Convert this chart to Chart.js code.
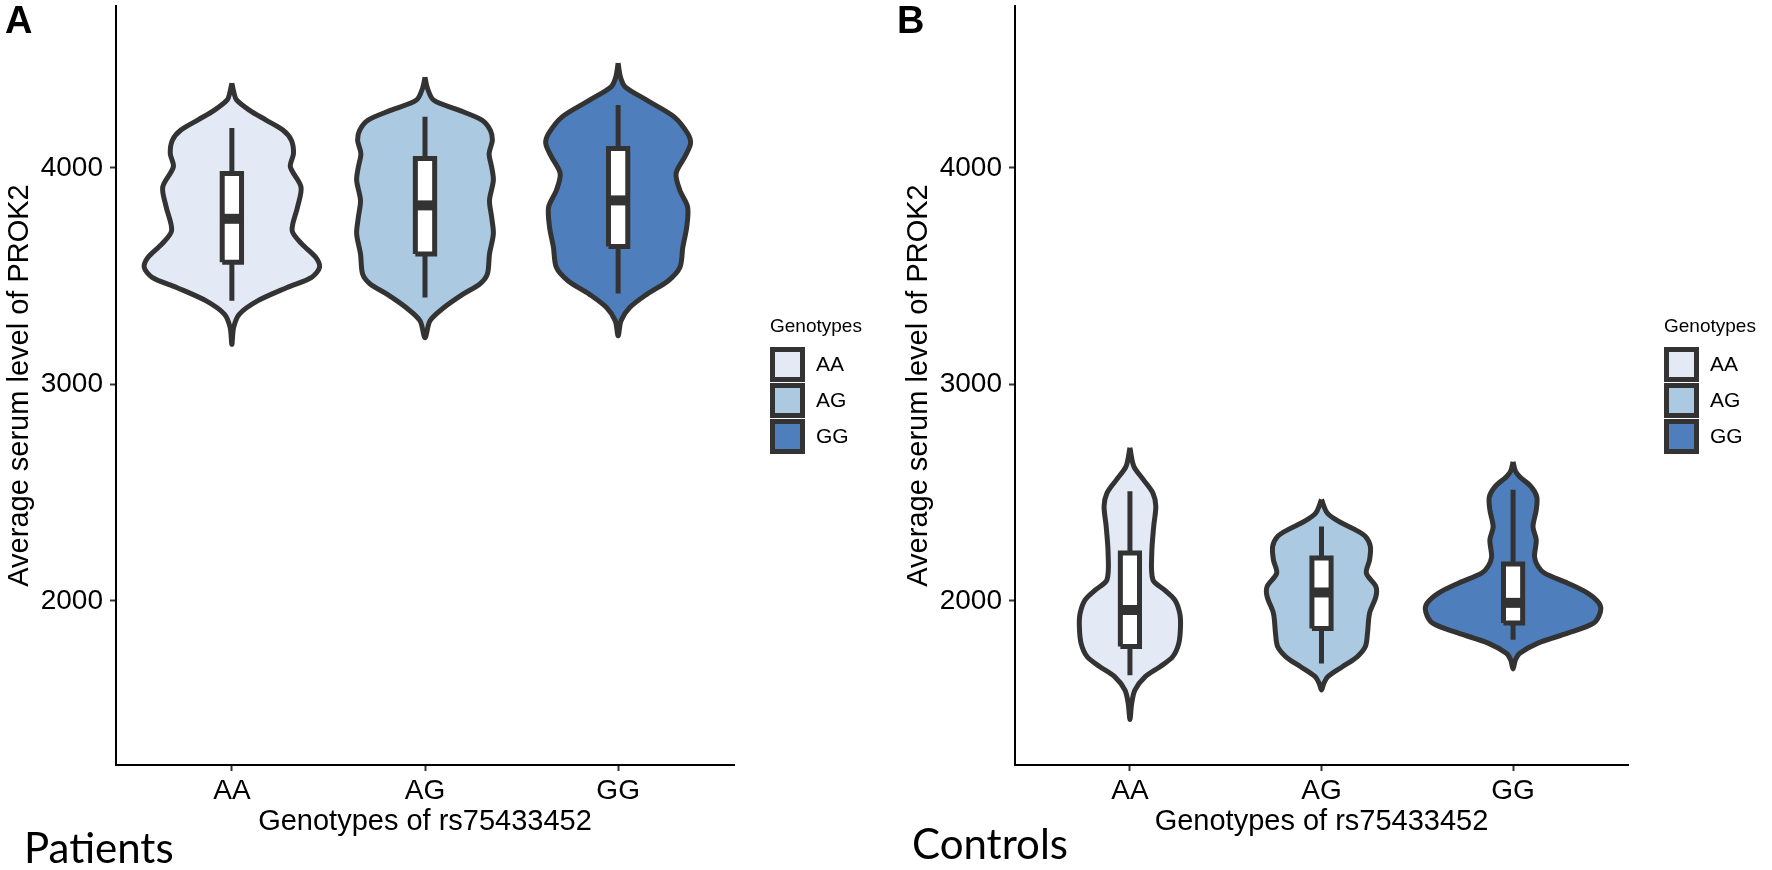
<!DOCTYPE html>
<html>
<head>
<meta charset="utf-8">
<script src="https://cdn.jsdelivr.net/npm/chart.js@4.4.0/dist/chart.umd.min.js"></script>
<style>
  html, body { margin: 0; padding: 0; background: #fff; }
  body { width: 1772px; height: 870px; position: relative; overflow: hidden; }
  .panel { position: absolute; top: 0; height: 870px; }
  .tag { position: absolute; font: bold 38px "Liberation Sans", Arial, sans-serif; line-height: 1; color: #000; }
  .group { position: absolute; font: 42px Lato, "Noto Sans", sans-serif; line-height: 1; color: #000; }
</style>
</head>
<body>
<div class="panel" style="left:0;width:899px"><canvas id="chartA" width="899" height="870"></canvas></div>
<div class="panel" style="left:899px;width:873px"><canvas id="chartB" width="873" height="870"></canvas></div>
<div class="tag" style="left:5px;top:1px">A</div>
<div class="tag" style="left:897px;top:1px">B</div>
<div class="group" style="left:24px;top:826px">Patients</div>
<div class="group" style="left:912px;top:822px">Controls</div>
<script>
var genotypes = ['AA', 'AG', 'GG'];
var yTicks = [2000, 3000, 4000];
var yMin = 1242, yMax = 4748;

// violin outlines, top tip to bottom tip: value and half width (in category units)
var patAA_v = [4391, 4350, 4314, 4267, 4221, 4175, 4128, 4066, 4005, 3912, 3819, 3711, 3649, 3587, 3541, 3495, 3448, 3386, 3325, 3263, 3185];
var patAA_w = [0, 0.01, 0.024, 0.09, 0.177, 0.264, 0.308, 0.319, 0.303, 0.358, 0.34, 0.312, 0.362, 0.434, 0.454, 0.413, 0.286, 0.133, 0.039, 0.009, 0];
var patAG_v = [4419, 4370, 4314, 4267, 4221, 4175, 4128, 4066, 4005, 3943, 3850, 3773, 3696, 3603, 3510, 3464, 3417, 3355, 3294, 3216];
var patAG_w = [0, 0.012, 0.044, 0.175, 0.295, 0.338, 0.349, 0.332, 0.345, 0.354, 0.334, 0.345, 0.354, 0.334, 0.323, 0.284, 0.197, 0.098, 0.026, 0];
var patGG_v = [4484, 4420, 4376, 4314, 4236, 4159, 4113, 4051, 3974, 3896, 3819, 3726, 3634, 3541, 3479, 3417, 3355, 3294, 3224];
var patGG_w = [0, 0.012, 0.035, 0.146, 0.29, 0.36, 0.375, 0.345, 0.30, 0.32, 0.36, 0.355, 0.335, 0.32, 0.26, 0.15, 0.06, 0.015, 0];

var ctlAA_v = [2707, 2622, 2560, 2498, 2437, 2344, 2221, 2097, 2051, 2005, 1943, 1881, 1804, 1742, 1696, 1650, 1588, 1526, 1452];
var ctlAA_w = [0, 0.02, 0.07, 0.12, 0.135, 0.124, 0.114, 0.12, 0.18, 0.234, 0.26, 0.264, 0.255, 0.223, 0.157, 0.08, 0.026, 0.009, 0];
var ctlAG_v = [2468, 2406, 2367, 2329, 2298, 2252, 2190, 2128, 2066, 2020, 1943, 1850, 1789, 1742, 1696, 1650, 1619, 1588];
var ctlAG_w = [0, 0.03, 0.09, 0.175, 0.229, 0.255, 0.251, 0.234, 0.284, 0.284, 0.251, 0.24, 0.229, 0.186, 0.109, 0.033, 0.012, 0];
var ctlGG_v = [2642, 2600, 2573, 2527, 2480, 2420, 2342, 2282, 2203, 2160, 2128, 2082, 2036, 1989, 1950, 1897, 1851, 1805, 1758, 1727, 1686];
var ctlGG_w = [0, 0.012, 0.035, 0.095, 0.124, 0.121, 0.104, 0.121, 0.112, 0.13, 0.164, 0.285, 0.389, 0.449, 0.456, 0.42, 0.285, 0.13, 0.035, 0.012, 0];

// box plots: whisker ends, quartiles, median
var patLow = [3386, 3402, 3420];
var patQ1 = [3564, 3603, 3637];
var patMed = [3765, 3827, 3850];
var patQ3 = [3974, 4043, 4090];
var patHigh = [4185, 4236, 4291];

var ctlLow = [1657, 1711, 1820];
var ctlQ1 = [1789, 1873, 1898];
var ctlMed = [1958, 2039, 1991];
var ctlQ3 = [2221, 2198, 2171];
var ctlHigh = [2506, 2344, 2513];

var fills = ['#e3eaf5', '#abc9e1', '#4e7fbc'];
var lineCol = '#333333';
var boxHalf = 0.05;
var fontFam = '"Liberation Sans", Arial, sans-serif';

function violinPoints(pos, vals, widths) {
    var pts = [];
    for (var i = 0; i < vals.length; i++) pts.push({ x: pos - widths[i], y: vals[i] });
    for (var j = vals.length - 2; j >= 0; j--) pts.push({ x: pos + widths[j], y: vals[j] });
    return pts;
}

function makeDatasets(violins, lo, q1, med, q3, hi) {
    var ds = [];
    violins.forEach(function (v, i) {
        var c = i + 1;
        ds.push({
            label: genotypes[i], data: violinPoints(c, v[0], v[1]), showLine: true, fill: 'shape',
            backgroundColor: fills[i], borderColor: lineCol, borderWidth: 5, borderJoinStyle: 'round',
            tension: 0.3, pointRadius: 0, order: 4
        });
        ds.push({
            data: [{ x: c, y: lo[i] }, { x: c, y: hi[i] }], showLine: true, fill: false,
            borderColor: lineCol, borderWidth: 5, pointRadius: 0, order: 3
        });
        ds.push({
            data: [{ x: c - boxHalf, y: q1[i] }, { x: c - boxHalf, y: q3[i] }, { x: c + boxHalf, y: q3[i] },
                   { x: c + boxHalf, y: q1[i] }, { x: c - boxHalf, y: q1[i] }],
            showLine: true, fill: 'shape', backgroundColor: '#ffffff', borderColor: lineCol,
            borderWidth: 5, borderJoinStyle: 'miter', tension: 0, pointRadius: 0, order: 2
        });
        ds.push({
            data: [{ x: c - boxHalf, y: med[i] }, { x: c + boxHalf, y: med[i] }], showLine: true, fill: false,
            borderColor: lineCol, borderWidth: 10, borderCapStyle: 'butt', pointRadius: 0, order: 1
        });
    });
    return ds;
}

var genoLegend = {
    id: 'genoLegend',
    afterDraw: function (chart) {
        var ctx = chart.ctx;
        var x = chart.chartArea.right + 36;
        ctx.save();
        ctx.fillStyle = '#000';
        ctx.font = '19px ' + fontFam;
        ctx.textBaseline = 'alphabetic';
        ctx.fillText('Genotypes', x, 332);
        genotypes.forEach(function (g, i) {
            var y = 347 + i * 36;
            ctx.fillStyle = lineCol;
            ctx.fillRect(x, y, 35, 35);
            ctx.fillStyle = fills[i];
            ctx.fillRect(x + 5, y + 5, 25, 25);
            ctx.fillStyle = '#000';
            ctx.font = '21px ' + fontFam;
            ctx.textBaseline = 'middle';
            ctx.fillText(g, x + 46, y + 18);
        });
        ctx.restore();
    }
};

function noPad(s) {
    s.paddingTop = 0; s.paddingBottom = 0; s.paddingLeft = 0; s.paddingRight = 0;
}

function drawPanel(canvasId, datasets, padRight) {
    var ctx = document.getElementById(canvasId).getContext('2d');
    return new Chart(ctx, {
        type: 'scatter',
        data: { datasets: datasets },
        plugins: [genoLegend],
        options: {
            responsive: false,
            animation: false,
            devicePixelRatio: 1,
            layout: { padding: { top: 6, right: padRight, bottom: 0, left: 0 } },
            plugins: { legend: { display: false }, tooltip: { enabled: false } },
            scales: {
                x: {
                    type: 'linear', min: 0.4, max: 3.6,
                    afterBuildTicks: function (s) { s.ticks = genotypes.map(function (g, i) { return { value: i + 1 }; }); },
                    afterFit: function (s) { s.height = 105; noPad(s); },
                    border: { display: true, color: '#000', width: 2 },
                    grid: { display: true, drawOnChartArea: false, tickLength: 6, tickWidth: 2, tickColor: lineCol },
                    ticks: {
                        color: '#000', font: { family: fontFam, size: 28 }, padding: 3, autoSkip: false, maxRotation: 0,
                        callback: function (v) { return genotypes[v - 1]; }
                    },
                    title: { display: true, text: 'Genotypes of rs75433452', color: '#000', font: { family: fontFam, size: 29 }, padding: { top: 0, bottom: 31 } }
                },
                y: {
                    type: 'linear', min: yMin, max: yMax,
                    afterBuildTicks: function (s) { s.ticks = yTicks.map(function (v) { return { value: v }; }); },
                    afterFit: function (s) { s.width = 116; noPad(s); },
                    border: { display: true, color: '#000', width: 2 },
                    grid: { display: true, drawOnChartArea: false, tickLength: 6, tickWidth: 2, tickColor: lineCol },
                    ticks: {
                        color: '#000', font: { family: fontFam, size: 28 }, padding: 7,
                        callback: function (v) { return String(v); }
                    },
                    title: { display: true, text: 'Average serum level of PROK2', color: '#000', font: { family: fontFam, size: 29 }, padding: { top: 3, bottom: 0 } }
                }
            }
        }
    });
}

drawPanel('chartA', makeDatasets([[patAA_v, patAA_w], [patAG_v, patAG_w], [patGG_v, patGG_w]],
    patLow, patQ1, patMed, patQ3, patHigh), 165);
drawPanel('chartB', makeDatasets([[ctlAA_v, ctlAA_w], [ctlAG_v, ctlAG_w], [ctlGG_v, ctlGG_w]],
    ctlLow, ctlQ1, ctlMed, ctlQ3, ctlHigh), 144);
</script>
</body>
</html>
